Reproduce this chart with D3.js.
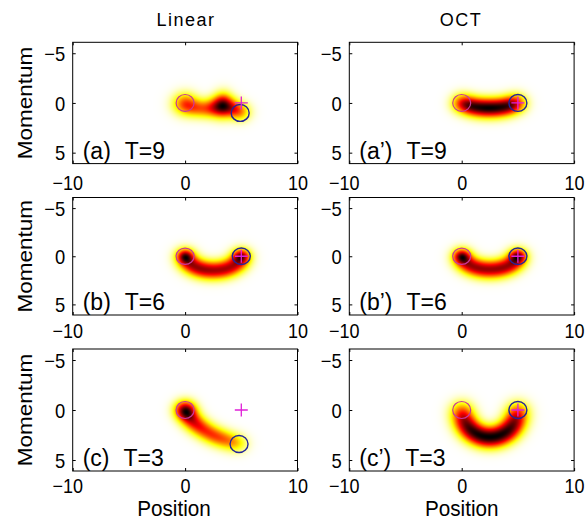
<!DOCTYPE html>
<html>
<head>
<meta charset="utf-8">
<script src="https://cdn.jsdelivr.net/npm/d3@7"></script>
<style>
  html, body { margin: 0; padding: 0; background: #fff; }
  svg { display: block; font-family: "Liberation Sans", Arial, Helvetica, sans-serif; }
</style>
</head>
<body>
<svg id="fig" width="587" height="522"></svg>
<script>
// ---- axes ----
const xDomain = [-10, 10];
const pDomain = [-6.1, 6.1];
const xTicks = [-10, 0, 10];
const pTicks = [-5, 0, 5];

// ---- text ----
const columnTitles = ["Linear", "OCT"];
const panelTags = ["(a)", "(a’)", "(b)", "(b’)", "(c)", "(c’)"];
const panelTimes = ["T=9", "T=9", "T=6", "T=6", "T=3", "T=3"];

// ---- markers: start state, target state, reached state per panel ----
const startState = [0, 0];
const targetState = [5, 0];
const reachedStates = [[4.9, 1.0], [5, 0], [5, 0], [5, 0], [4.8, 3.4], [5, 0]];

// ---- phase-space densities: [position, momentum, sigmaX, sigmaP, weight] ----
const densityA = [
  [0.0, 0.1, 0.7, 0.7, 0.55],
  [0.9, 0.5, 0.65, 0.6, 0.30],
  [1.8, 0.6, 0.65, 0.6, 0.32],
  [2.7, 0.45, 0.6, 0.65, 0.50],
  [3.4, 0.2, 0.55, 0.75, 0.85],
  [4.2, 0.5, 0.55, 0.6, 0.45],
  [4.9, 0.9, 0.6, 0.6, 0.38]
];
const densityA2 = [
  [0.0, 0.05, 0.6, 0.62, 0.58],
  [0.7, 0.3, 0.55, 0.62, 0.62],
  [1.4, 0.45, 0.55, 0.62, 0.65],
  [2.1, 0.5, 0.55, 0.62, 0.68],
  [2.8, 0.5, 0.55, 0.62, 0.68],
  [3.5, 0.45, 0.55, 0.62, 0.65],
  [4.2, 0.3, 0.55, 0.62, 0.62],
  [4.9, 0.05, 0.6, 0.62, 0.58]
];
const densityB = [
  [0.0, 0.0, 0.45, 0.45, 0.50],
  [5.0, 0.0, 0.45, 0.45, 0.45],
  [0.0, 0.0, 0.62, 0.62, 0.28],
  [0.15, 0.51, 0.62, 0.62, 0.28],
  [0.53, 0.92, 0.62, 0.62, 0.28],
  [1.0, 1.2, 0.62, 0.62, 0.28],
  [1.48, 1.37, 0.62, 0.62, 0.27],
  [1.98, 1.47, 0.62, 0.62, 0.27],
  [2.5, 1.5, 0.62, 0.62, 0.26],
  [3.02, 1.47, 0.62, 0.62, 0.26],
  [3.52, 1.37, 0.62, 0.62, 0.26],
  [4.0, 1.2, 0.62, 0.62, 0.26],
  [4.47, 0.92, 0.62, 0.62, 0.27],
  [4.85, 0.51, 0.62, 0.62, 0.27],
  [5.0, 0.0, 0.62, 0.62, 0.27]
];
const densityB2 = [
  [0.0, 0.0, 0.45, 0.45, 0.50],
  [5.0, 0.0, 0.45, 0.45, 0.50],
  [0.0, 0.0, 0.62, 0.62, 0.27],
  [0.15, 0.48, 0.62, 0.62, 0.27],
  [0.53, 0.86, 0.62, 0.62, 0.27],
  [1.0, 1.11, 0.62, 0.62, 0.27],
  [1.48, 1.27, 0.62, 0.62, 0.27],
  [1.98, 1.36, 0.62, 0.62, 0.27],
  [2.5, 1.4, 0.62, 0.62, 0.27],
  [3.02, 1.36, 0.62, 0.62, 0.27],
  [3.52, 1.27, 0.62, 0.62, 0.27],
  [4.0, 1.11, 0.62, 0.62, 0.27],
  [4.47, 0.86, 0.62, 0.62, 0.27],
  [4.85, 0.48, 0.62, 0.62, 0.27],
  [5.0, 0.0, 0.62, 0.62, 0.27]
];
const densityC = [
  [0.0, 0.0, 0.6, 0.6, 0.50],
  [0.0, 0.0, 0.6, 0.6, 0.35],
  [0.25, 0.55, 0.6, 0.6, 0.34],
  [0.6, 1.05, 0.6, 0.6, 0.32],
  [1.05, 1.5, 0.6, 0.6, 0.30],
  [1.55, 1.9, 0.6, 0.6, 0.28],
  [2.1, 2.3, 0.6, 0.6, 0.26],
  [2.65, 2.6, 0.6, 0.6, 0.24],
  [3.2, 2.85, 0.6, 0.6, 0.22],
  [3.75, 3.05, 0.6, 0.6, 0.19],
  [4.3, 3.25, 0.6, 0.6, 0.16],
  [4.8, 3.35, 0.6, 0.6, 0.13]
];
const densityC2 = [
  [0.0, 0.0, 0.68, 0.68, 0.30],
  [0.05, 0.55, 0.68, 0.68, 0.33],
  [0.19, 1.07, 0.68, 0.68, 0.36],
  [0.42, 1.56, 0.68, 0.68, 0.40],
  [0.73, 1.98, 0.68, 0.68, 0.42],
  [1.11, 2.33, 0.68, 0.68, 0.42],
  [1.54, 2.59, 0.68, 0.68, 0.42],
  [2.01, 2.75, 0.68, 0.68, 0.42],
  [2.5, 2.8, 0.68, 0.68, 0.42],
  [2.99, 2.75, 0.68, 0.68, 0.42],
  [3.46, 2.59, 0.68, 0.68, 0.42],
  [3.89, 2.33, 0.68, 0.68, 0.42],
  [4.27, 1.98, 0.68, 0.68, 0.42],
  [4.58, 1.56, 0.68, 0.68, 0.40],
  [4.81, 1.07, 0.68, 0.68, 0.36],
  [4.95, 0.55, 0.68, 0.68, 0.33],
  [5.0, 0.0, 0.68, 0.68, 0.30]
];
const densities = [densityA, densityA2, densityB, densityB2, densityC, densityC2];

// ---- layout ----
const colLeft = [72.7, 349.3];
const colWidth = 224.8;
const rowTop = [42.3, 197.5, 349];
const rowHeight = [121.3, 117.5, 122];
const xLabelOffset = [26.5, 23, 21.5];

const svg = d3.select("#fig");
const clamp = v => Math.max(0, Math.min(1, v));

// reversed "hot" colormap: white -> yellow -> red -> black
function hotReversed(t) {
  const s = 1 - t;
  return [clamp(s / 0.375), clamp((s - 0.375) / 0.375), clamp((s - 0.75) / 0.25)];
}

function densityImage(blobs, x, y, x0, y0, w, h) {
  const W = Math.round(w), H = Math.round(h);
  const canvas = document.createElement("canvas");
  canvas.width = W; canvas.height = H;
  const ctx = canvas.getContext("2d");
  const vals = new Float32Array(W * H);
  let max = 0;
  for (let j = 0; j < H; j++) {
    const p = y.invert(y0 + (j + 0.5) * h / H);
    for (let i = 0; i < W; i++) {
      const q = x.invert(x0 + (i + 0.5) * w / W);
      let v = 0;
      for (const [bx, bp, sx, sp, wt] of blobs) {
        const dx = (q - bx) / sx, dp = (p - bp) / sp;
        v += wt * Math.exp(-0.5 * (dx * dx + dp * dp));
      }
      vals[j * W + i] = v;
      if (v > max) max = v;
    }
  }
  const img = ctx.createImageData(W, H);
  for (let k = 0; k < W * H; k++) {
    const c = hotReversed(Math.pow(vals[k] / max, 0.85));
    img.data[4 * k] = Math.round(c[0] * 255);
    img.data[4 * k + 1] = Math.round(c[1] * 255);
    img.data[4 * k + 2] = Math.round(c[2] * 255);
    img.data[4 * k + 3] = 255;
  }
  ctx.putImageData(img, 0, 0);
  return canvas.toDataURL();
}

for (let k = 0; k < 6; k++) {
  const row = Math.floor(k / 2), col = k % 2;
  const x0 = colLeft[col], w = colWidth, y0 = rowTop[row], h = rowHeight[row];
  const x = d3.scaleLinear().domain(xDomain).range([x0, x0 + w]);
  const y = d3.scaleLinear().domain(pDomain).range([y0, y0 + h]);
  const g = svg.append("g");

  g.append("image")
    .attr("x", x0).attr("y", y0).attr("width", w).attr("height", h)
    .attr("preserveAspectRatio", "none")
    .attr("href", densityImage(densities[k], x, y, x0, y0, w, h));

  // start state (pink) and reached state (blue)
  const rx = x(0.8) - x(0), ry = y(0.85) - y(0);
  g.append("ellipse")
    .attr("cx", x(startState[0])).attr("cy", y(startState[1]))
    .attr("rx", rx).attr("ry", ry)
    .attr("fill", "none").attr("stroke", "#c8389c").attr("stroke-width", 1.2);
  g.append("ellipse")
    .attr("cx", x(reachedStates[k][0])).attr("cy", y(reachedStates[k][1]))
    .attr("rx", rx).attr("ry", ry)
    .attr("fill", "none").attr("stroke", "#23239a").attr("stroke-width", 1.4);
  // target state
  const tx = x(targetState[0]), ty = y(targetState[1]), arm = 6.5;
  g.append("path")
    .attr("d", `M${tx - arm},${ty}H${tx + arm}M${tx},${ty - arm}V${ty + arm}`)
    .attr("stroke", "#e020d8").attr("stroke-width", 1.3).attr("fill", "none");

  // frame
  g.append("rect").attr("x", x0).attr("y", y0).attr("width", w).attr("height", h)
    .attr("fill", "none").attr("stroke", "#000").attr("stroke-width", 1);

  // bottom axis with labels
  const ax = g.append("g").attr("transform", `translate(0,${y0 + h})`)
    .call(d3.axisBottom(x).tickValues(xTicks).tickSize(-3))
    .attr("font-size", null).attr("font-family", null);
  ax.select(".domain").remove();
  ax.selectAll("text")
    .attr("y", 0).attr("dy", null)
    .attr("transform", d => `translate(${d < 0 ? -5.5 : 0},${xLabelOffset[row]}) scale(0.9,1)`)
    .style("font-size", "20px");

  // left axis with labels
  const ay = g.append("g").attr("transform", `translate(${x0},0)`)
    .call(d3.axisLeft(y).tickValues(pTicks).tickSize(-3))
    .attr("font-size", null).attr("font-family", null);
  ay.select(".domain").remove();
  ay.selectAll("text")
    .attr("x", 0).attr("dy", "0.36em")
    .attr("transform", "translate(-7.5,0) scale(0.92,1)")
    .style("font-size", "20px");

  // top and right ticks
  const at = g.append("g").attr("transform", `translate(0,${y0})`)
    .call(d3.axisTop(x).tickValues(xTicks).tickSize(-3).tickFormat(() => ""));
  at.select(".domain").remove();
  at.selectAll("text").remove();
  const ar = g.append("g").attr("transform", `translate(${x0 + w},0)`)
    .call(d3.axisRight(y).tickValues(pTicks).tickSize(-3).tickFormat(() => ""));
  ar.select(".domain").remove();
  ar.selectAll("text").remove();

  // panel tag
  const tag = g.append("text")
    .attr("x", x0 + 10).attr("y", y0 + h - 5)
    .style("font-size", "23px");
  tag.append("tspan").text(panelTags[k]);
  tag.append("tspan").attr("dx", 14).text(panelTimes[k]);

  // y label, left column only
  if (col === 0) {
    svg.append("text")
      .attr("transform", `translate(32,${y(0)}) scale(0.92,1) rotate(-90)`)
      .attr("text-anchor", "middle")
      .style("font-size", "22.5px")
      .text("Momentum");
  }
}

// column titles
const titleX = [186, 461];
columnTitles.forEach((t, i) => {
  svg.append("text")
    .attr("x", titleX[i]).attr("y", 26)
    .attr("text-anchor", "middle")
    .style("font-size", "18px").style("letter-spacing", "1.5px")
    .text(t);
});

// x labels
const posX = [174, 461.7];
posX.forEach(cx => {
  svg.append("text")
    .attr("transform", `translate(${cx},516) scale(0.92,1)`)
    .attr("text-anchor", "middle")
    .style("font-size", "22.5px")
    .text("Position");
});
</script>
</body>
</html>
